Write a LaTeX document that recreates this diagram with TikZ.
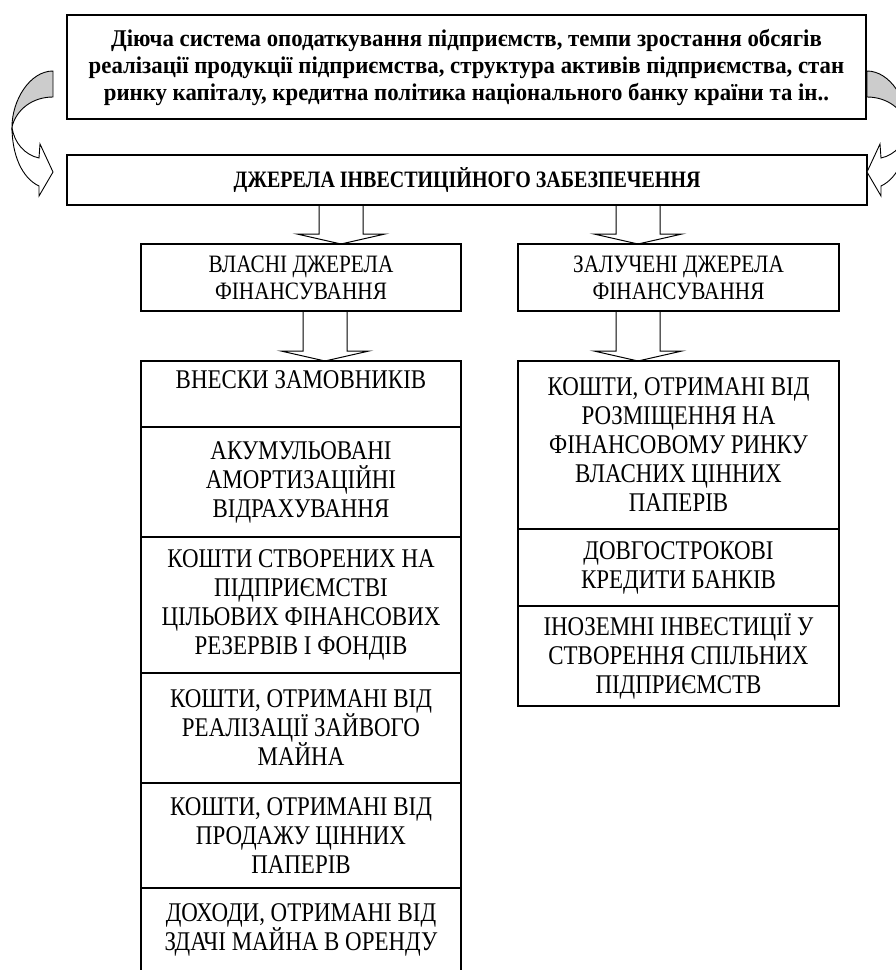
\documentclass[tikz,border=0pt]{standalone}
\usepackage{fontspec}
\setmainfont{Liberation Serif}[FakeStretch=0.85]
\newfontfamily\headfont{Liberation Serif}[FakeStretch=0.95]
\usetikzlibrary{positioning,calc}

% block arrow pointing down: centre x, upper node, lower node
\newcommand{\blockdown}[3]{%
  \draw[blockarrow] let \p1=(#2.south), \p2=(#3.north) in
    (#1pt-22pt,\y1) -- (#1pt-22pt,\y2+10pt) -- (#1pt-44pt,\y2+10pt) -- (#1pt,\y2)
    -- (#1pt+44pt,\y2+10pt) -- (#1pt+22pt,\y2+10pt) -- (#1pt+22pt,\y1);}

% curved side arrow, origin at the top of its grey part
\newcommand{\bentarrow}{%
  \filldraw[bent, fill=gray!40] (0,0) .. controls (-23,0) and (-41,29) .. (-41,56)
    .. controls (-37,39) and (-21,26) .. (0,26) -- cycle;
  \filldraw[bent, fill=white] (-41,56) .. controls (-39,72) and (-28,84) .. (-14,87)
    -- (-13,73) -- (0,101) -- (-14,125) -- (-14,115)
    .. controls (-31,107) and (-41,84) .. (-41,56) -- cycle;}

\begin{document}
\begin{tikzpicture}[x=1pt, y=-1pt, line width=1.1pt,
    box/.style={draw, rectangle, inner sep=0pt, outer sep=0pt, align=center,
                anchor=north west, font={\fontsize{27}{29}\selectfont}},
    cell/.style={box, minimum width=320pt},
    group/.style={cell, font={\fontsize{25}{27}\selectfont}},
    blockarrow/.style={draw, line width=1pt, line join=miter},
    bent/.style={line width=0.9pt}]
  \useasboundingbox (0,0) rectangle (896,970);

  % top level
  \node[box, minimum width=799pt, minimum height=104pt,
        font={\headfont\bfseries\fontsize{24}{27}\selectfont}] (factors) at (67,15)
    {Діюча система оподаткування підприємств, темпи зростання обсягів\\
     реалізації продукції підприємства, структура активів підприємства, стан\\
     ринку капіталу, кредитна політика національного банку країни та ін..};
  \node[box, minimum width=800pt, minimum height=50pt,
        font={\bfseries\fontsize{23.5}{26}\selectfont}] (sources) at (67,155)
    {ДЖЕРЕЛА ІНВЕСТИЦІЙНОГО ЗАБЕЗПЕЧЕННЯ};

  % two groups
  \node[group, minimum height=67pt] (own) at (141,244) {ВЛАСНІ ДЖЕРЕЛА\\ ФІНАНСУВАННЯ};
  \node[group, minimum width=321pt, minimum height=67pt] (raised) at (518,244)
    {ЗАЛУЧЕНІ ДЖЕРЕЛА\\ ФІНАНСУВАННЯ};

  % own sources
  \node[cell, minimum height=66pt] (fees) at (141,361) {ВНЕСКИ ЗАМОВНИКІВ\\ ~};
  \node[cell, minimum height=110pt, below=0pt of fees] (amort)
    {АКУМУЛЬОВАНІ\\ АМОРТИЗАЦІЙНІ\\ ВІДРАХУВАННЯ};
  \node[cell, minimum height=136pt, below=0pt of amort] (reserves)
    {КОШТИ СТВОРЕНИХ НА\\ ПІДПРИЄМСТВІ\\ ЦІЛЬОВИХ ФІНАНСОВИХ\\ РЕЗЕРВІВ І ФОНДІВ};
  \node[cell, minimum height=110pt, below=0pt of reserves] (surplus)
    {КОШТИ, ОТРИМАНІ ВІД\\ РЕАЛІЗАЦІЇ ЗАЙВОГО\\ МАЙНА};
  \node[cell, minimum height=105pt, below=0pt of surplus] (sales)
    {КОШТИ, ОТРИМАНІ ВІД\\ ПРОДАЖУ ЦІННИХ\\ ПАПЕРІВ};
  \node[cell, minimum height=108pt, below=0pt of sales] (rent)
    {ДОХОДИ, ОТРИМАНІ ВІД\\ ЗДАЧІ МАЙНА В ОРЕНДУ\\ ~};

  % raised sources
  \node[cell, minimum width=321pt, minimum height=168pt] (placement) at (518,361)
    {КОШТИ, ОТРИМАНІ ВІД\\ РОЗМІЩЕННЯ НА\\ ФІНАНСОВОМУ РИНКУ\\ ВЛАСНИХ ЦІННИХ\\ ПАПЕРІВ};
  \node[cell, minimum width=321pt, minimum height=77pt, below=0pt of placement] (credits)
    {ДОВГОСТРОКОВІ\\ КРЕДИТИ БАНКІВ};
  \node[cell, minimum width=321pt, minimum height=100pt, below=0pt of credits] (foreign)
    {ІНОЗЕМНІ ІНВЕСТИЦІЇ У\\ СТВОРЕННЯ СПІЛЬНИХ\\ ПІДПРИЄМСТВ};

  % arrows
  \blockdown{341}{sources}{own}
  \blockdown{325}{own}{fees}
  \blockdown{638}{sources}{raised}
  \blockdown{638}{raised}{placement}

  \begin{scope}[shift={($(factors.north west)+(-14,56)$)}]
    \bentarrow
  \end{scope}
  \begin{scope}[shift={($(factors.north east)+(1,56)$)}, xscale=-1]
    \bentarrow
  \end{scope}
\end{tikzpicture}
\end{document}
